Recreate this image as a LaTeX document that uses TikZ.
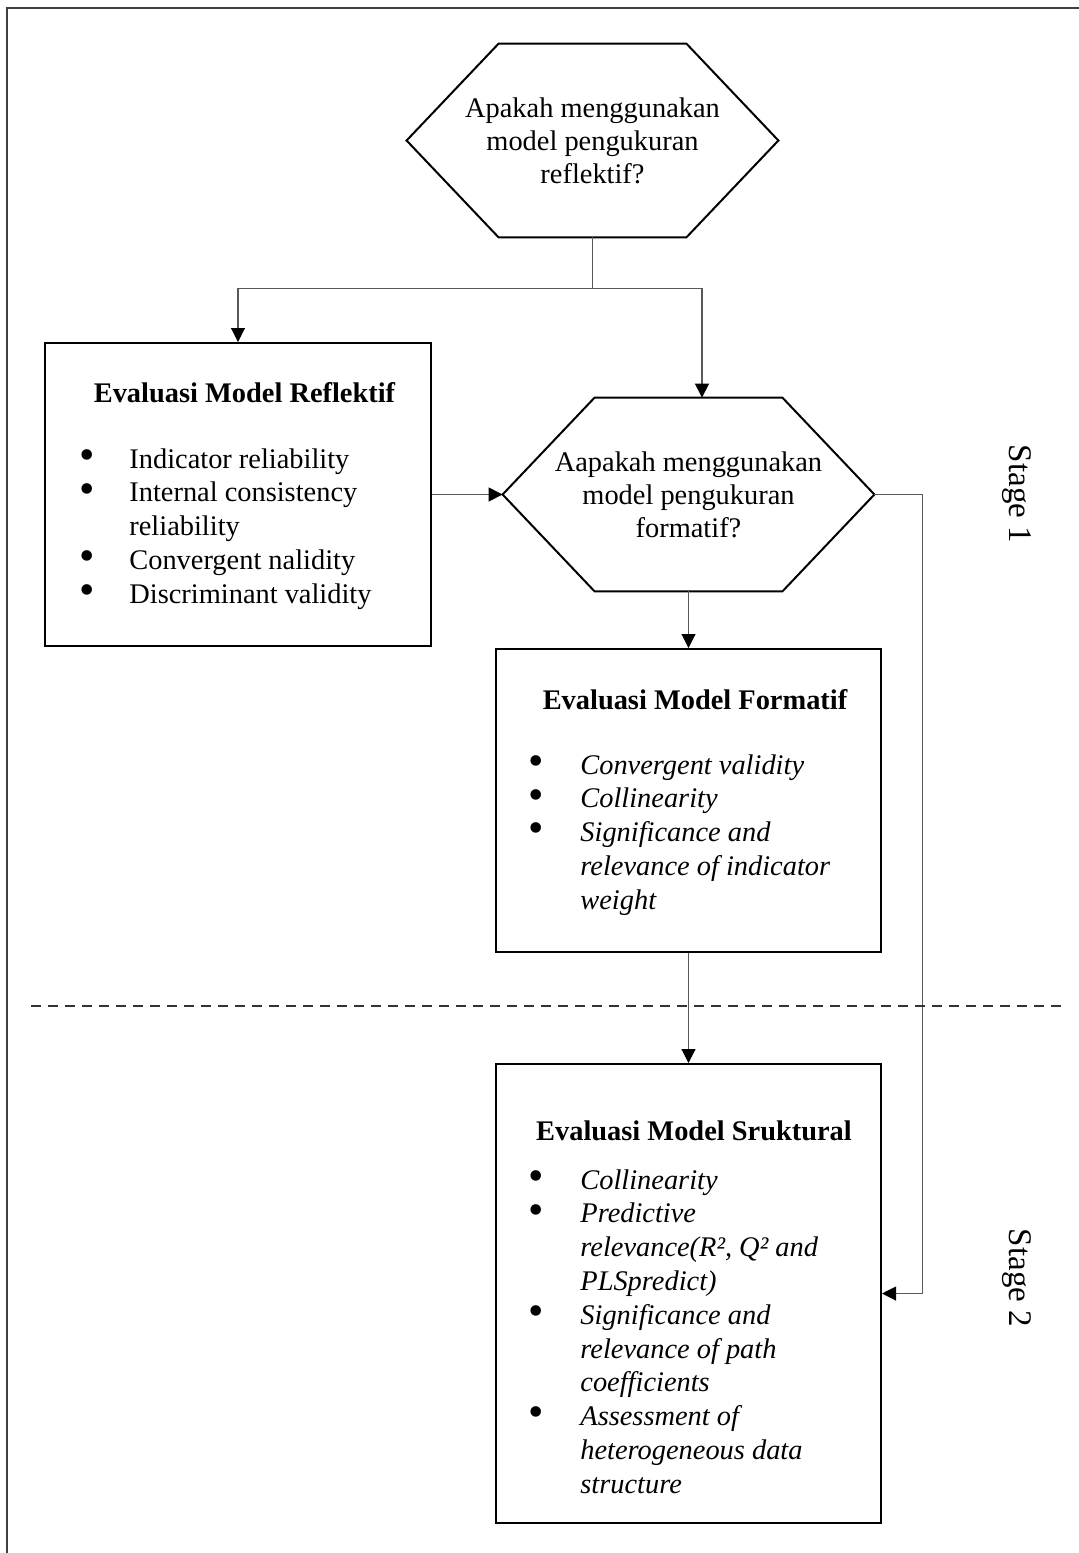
\documentclass[tikz,border=0pt]{standalone}
\usepackage{fontspec}
\setmainfont{Liberation Serif}
\usetikzlibrary{arrows.meta,calc}

% bullet item and continuation line for the criteria lists
\newcommand\critbullet{\smash{\raisebox{-0.6pt}{\scalebox{1.55}{\upshape\textbullet}}}}
\newcommand\critem[2]{\makebox[#1][l]{\critbullet}#2}
\newcommand\critcont[2]{\hspace*{#1}#2}

\begin{document}
\begin{tikzpicture}[x=0.5pt,y=-0.5pt,
  body/.style={font=\fontsize{14.2}{16.9}\selectfont, inner sep=0pt},
  bodyit/.style={font=\fontsize{14.2}{16.9}\selectfont\itshape, inner sep=0pt},
  title/.style={font=\fontsize{14.2}{16.9}\selectfont\bfseries, inner sep=0pt},
  question/.style={shape=rectangle, inner sep=0pt, align=center,
    minimum width=185.5pt, minimum height=96.5pt,
    font=\fontsize{14.2}{16.5}\selectfont},
  panel/.style={shape=rectangle, draw=black, line width=1pt, inner sep=0pt},
  outline/.style={draw=black, line width=1pt, line join=miter},
  conn/.style={draw=black!65, line width=0.55pt},
  arrow/.style={conn, -{Triangle[length=7pt,width=7pt,fill=black,color=black]}},
  stage/.style={font=\fontsize{16.5}{19}\selectfont, rotate=-90, inner sep=0pt},
  frame/.style={draw=black!75, line width=0.8pt}
]
\useasboundingbox (0,0) rectangle (1079,1553);

% partial frame: top and left edges
\coordinate (fr-tl) at (7,8);
\coordinate (fr-tr) at (1079,8);
\coordinate (fr-bl) at (7,1553);
\draw[frame] (fr-tr) -- (fr-tl) -- (fr-bl);

% decision 1
\node[question] (h1) at (592.5,140.5)
  {Apakah menggunakan\\model pengukuran\\reflektif?};
\draw[outline] (h1.west) -- ($(h1.north west)+(92,0)$) -- ($(h1.north east)+(-92,0)$)
  -- (h1.east) -- ($(h1.south east)+(-92,0)$) -- ($(h1.south west)+(92,0)$) -- cycle;

% decision 2
\node[question] (h2) at (688.5,494.5)
  {Aapakah menggunakan\\model pengukuran\\formatif?};
\draw[outline] (h2.west) -- ($(h2.north west)+(92,0)$) -- ($(h2.north east)+(-92,0)$)
  -- (h2.east) -- ($(h2.south east)+(-92,0)$) -- ($(h2.south west)+(92,0)$) -- cycle;

% reflective evaluation
\node[panel, minimum width=193pt, minimum height=151.5pt] (b1) at (238,494.5) {};
\node[title] (b1t) at (244.5,393) {Evaluasi Model Reflektif};
\node[body, align=left, anchor=north west] (b1l) at (79,448)
  {\critem{25pt}{Indicator reliability}\\
   \critem{25pt}{Internal consistency}\\
   \critcont{25pt}{reliability}\\
   \critem{25pt}{Convergent nalidity}\\
   \critem{25pt}{Discriminant validity}};

% formative evaluation
\node[panel, minimum width=192.5pt, minimum height=151.5pt] (b2) at (688.5,800.5) {};
\node[title] (b2t) at (695,700) {Evaluasi Model Formatif};
\node[bodyit, align=left, anchor=north west] (b2l) at (528,754)
  {\critem{26pt}{Convergent validity}\\
   \critem{26pt}{Collinearity}\\
   \critem{26pt}{Significance and}\\
   \critcont{26pt}{relevance of indicator}\\
   \critcont{26pt}{weight}};

% structural evaluation
\node[panel, minimum width=192.5pt, minimum height=229.5pt] (b3) at (688.5,1293.5) {};
\node[title] (b3t) at (694,1131) {Evaluasi Model Sruktural};
\node[bodyit, align=left, anchor=north west] (b3l) at (528,1169)
  {\critem{26pt}{Collinearity}\\
   \critem{26pt}{Predictive}\\
   \critcont{26pt}{relevance(R², Q² and}\\
   \critcont{26pt}{PLSpredict)}\\
   \critem{26pt}{Significance and}\\
   \critcont{26pt}{relevance of path}\\
   \critcont{26pt}{coefficients}\\
   \critem{26pt}{Assessment of}\\
   \critcont{26pt}{heterogeneous data}\\
   \critcont{26pt}{structure}};

% connectors
\draw[conn] (h1.south) -- ++(0,51) coordinate (split);
\draw[arrow] (split) -| (b1.north);
\draw[arrow] (split) -| ($(h2.north)+(13.5,0)$);
\draw[arrow] (b1.east) -- (h2.west);
\draw[arrow] (h2.south) -- (b2.north);
\draw[arrow] (b2.south) -- (b3.north);
\draw[arrow] (h2.east) -- ++(48,0) |- (b3.east);

% stage separator
\coordinate (sep-l) at (31,1006);
\coordinate (sep-r) at (1064,1006);
\draw[draw=black!80, line width=0.6pt, dash pattern=on 5pt off 3.5pt] (sep-l) -- (sep-r);

% stage labels
\node[stage] (s1) at (1017,494) {Stage 1};
\node[stage] (s2) at (1017,1278) {Stage 2};
\end{tikzpicture}
\end{document}
